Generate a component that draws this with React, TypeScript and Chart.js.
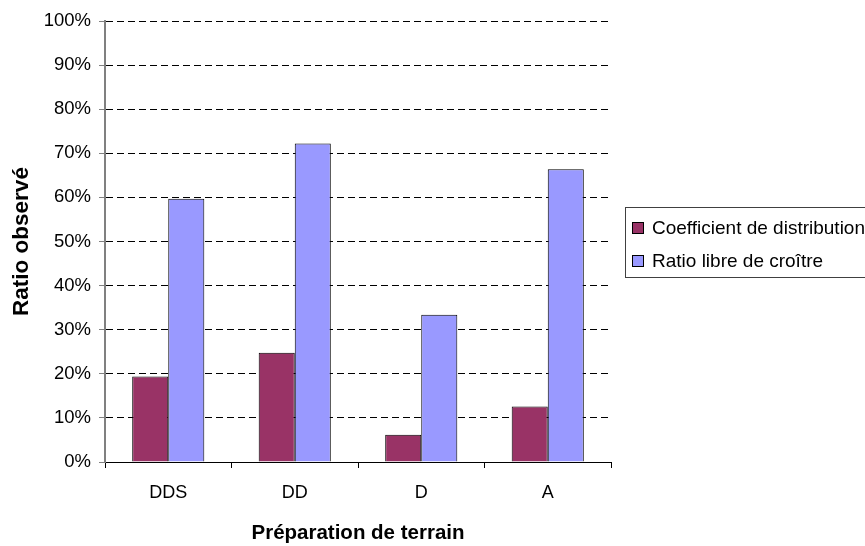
import React, { useEffect, useRef } from "react";
import { Chart, registerables } from "chart.js";

Chart.register(...registerables);

// Site preparation treatments
const categories = ["DDS", "DD", "D", "A"];

// Observed ratios, in percent
const coefficientDistribution = [19.4, 24.8, 6.2, 12.6];
const ratioLibreCroitre = [59.7, 72.2, 33.4, 66.4];

const seriesLabels = ["Coefficient de distribution", "Ratio libre de croître"];
const seriesColors = ["#993366", "#9999FF"];

const yMin = 0;
const yMax = 100;
const yStep = 10;

const xAxisTitle = "Préparation de terrain";
const yAxisTitle = "Ratio observé";

const FONT = "'Liberation Sans', Arial, sans-serif";

// Framed legend drawn to the right of the plot area
const framedLegend = {
  id: "framedLegend",
  afterDraw(chart: any) {
    const { ctx, chartArea } = chart;
    const left = chartArea.right + 14;
    const top = 207;
    const rowGap = 33;
    ctx.save();
    ctx.strokeStyle = "#404040";
    ctx.lineWidth = 1;
    ctx.strokeRect(left + 0.5, top + 0.5, 300, 70);
    ctx.font = `19px ${FONT}`;
    ctx.textBaseline = "middle";
    ctx.textAlign = "left";
    chart.data.datasets.forEach((ds: any, i: number) => {
      const cy = top + 21 + i * rowGap;
      ctx.fillStyle = ds.backgroundColor;
      ctx.fillRect(left + 7.5, cy - 5.5, 11, 11);
      ctx.strokeStyle = "#000";
      ctx.strokeRect(left + 7.5, cy - 5.5, 11, 11);
      ctx.fillStyle = "#000";
      ctx.fillText(ds.label, left + 27, cy + 1);
    });
    ctx.restore();
  },
};

export default function App() {
  const canvasRef = useRef<HTMLCanvasElement | null>(null);

  useEffect(() => {
    const canvas = canvasRef.current;
    if (!canvas) return;
    const chart = new Chart(canvas, {
      type: "bar",
      data: {
        labels: categories,
        datasets: [
          {
            label: seriesLabels[0],
            data: coefficientDistribution,
            backgroundColor: seriesColors[0],
            borderColor: "#000000",
            borderWidth: 1,
          },
          {
            label: seriesLabels[1],
            data: ratioLibreCroitre,
            backgroundColor: seriesColors[1],
            borderColor: "#000000",
            borderWidth: 1,
          },
        ],
      },
      options: {
        responsive: false,
        maintainAspectRatio: false,
        animation: false,
        devicePixelRatio: 1,
        layout: { padding: { left: 0, top: 21, right: 254, bottom: 0 } },
        datasets: {
          bar: { categoryPercentage: 0.57, barPercentage: 1.0 },
        },
        plugins: {
          legend: { display: false },
          tooltip: { enabled: false },
        },
        scales: {
          x: {
            afterFit(scale: any) {
              scale.height = 84;
            },
            grid: {
              display: true,
              drawOnChartArea: false,
              drawTicks: true,
              offset: true,
              tickLength: 6,
              color: "#000000",
              tickColor: "#000000",
            },
            border: { display: true, color: "#000000", width: 1 },
            ticks: {
              color: "#000000",
              font: { family: FONT, size: 18 },
              padding: 14,
            },
            title: {
              display: true,
              text: xAxisTitle,
              color: "#000000",
              font: { family: FONT, size: 20.5, weight: "bold" },
              padding: { top: 0, bottom: 0 },
            },
          },
          y: {
            min: yMin,
            max: yMax,
            afterFit(scale: any) {
              scale.width = 105;
            },
            grid: {
              color: "#000000",
              lineWidth: 1,
              tickLength: 6,
              tickColor: "#808080",
            },
            border: { display: true, color: "#808080", width: 2, dash: [7, 4] },
            ticks: {
              stepSize: yStep,
              color: "#000000",
              font: { family: FONT, size: 18.5 },
              padding: 8,
              callback: (v: any) => `${v}%`,
            },
            title: {
              display: true,
              text: yAxisTitle,
              color: "#000000",
              font: { family: FONT, size: 22.5, weight: "bold" },
              padding: { top: 8, bottom: 0 },
            },
          },
        },
      },
      plugins: [framedLegend],
    });
    return () => chart.destroy();
  }, []);

  return (
    <div style={{ position: "absolute", left: 0, top: 0, width: 865, height: 546, background: "#fff" }}>
      <canvas ref={canvasRef} width={865} height={546} style={{ display: "block" }} />
    </div>
  );
}
